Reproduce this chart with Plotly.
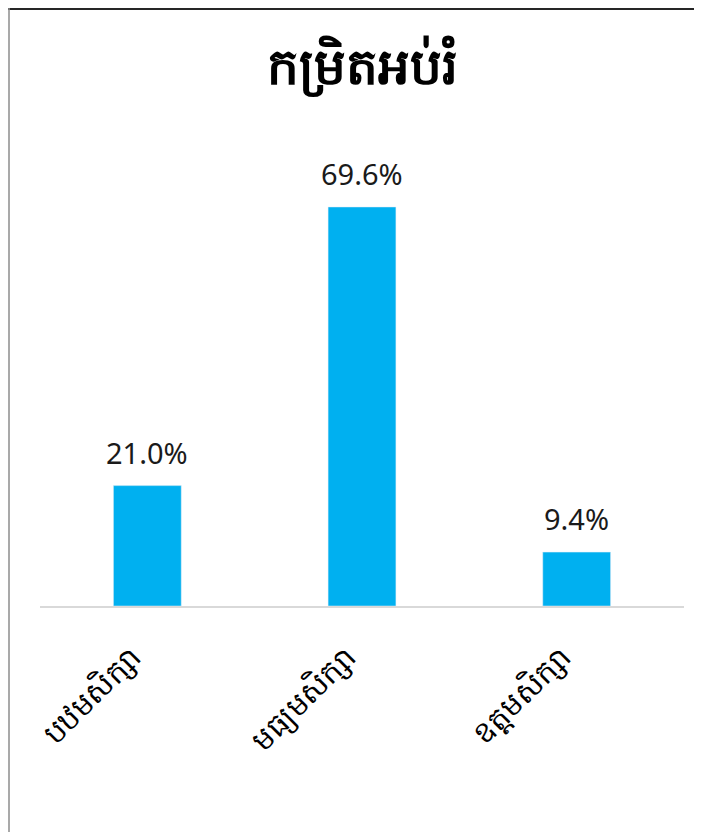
import plotly.graph_objects as go

categories = ["បឋមសិក្សា", "មធ្យមសិក្សា", "ឧត្តមសិក្សា"]
values = [21.0, 69.6, 9.4]
labels = ["21.0%", "69.6%", "9.4%"]
title_text = "កម្រិតអប់រំ"

OFF = 8  # default page body margin
W, H = 694, 824
PLOT_L, PLOT_R, PLOT_T, BASE = 40, 684, 140, 606   # page pixels
ml, mr = PLOT_L - OFF, (OFF + W) - PLOT_R
mt, mb = PLOT_T - OFF, H - (BASE - OFF)
FONT = "Noto Sans, DejaVu Sans"

fig = go.Figure(go.Bar(
    x=categories, y=values,
    marker_color="#00B0F0",
))

for c, v, t in zip(categories, values, labels):
    fig.add_annotation(x=c, y=v, text=t, showarrow=False, yanchor="bottom",
                       yshift=12, font=dict(size=29, color="#1a1a1a", family=FONT))

pw = W - ml - mr
ph = H - mt - mb
def px_to_paper_x(px):
    return (px - OFF - ml) / pw
def px_to_paper_y(py):
    return (H - mb - (py - OFF)) / ph

# frame: dark top edge, grey left edge
fig.add_shape(type="line", xref="paper", yref="paper",
              x0=px_to_paper_x(8), x1=px_to_paper_x(710),
              y0=px_to_paper_y(9), y1=px_to_paper_y(9),
              line=dict(color="#262626", width=2))
fig.add_shape(type="line", xref="paper", yref="paper",
              x0=px_to_paper_x(9), x1=px_to_paper_x(9),
              y0=px_to_paper_y(8), y1=px_to_paper_y(900),
              line=dict(color="#8c8c8c", width=1.5))

fig.update_layout(
    width=W, height=H,
    margin=dict(l=ml, r=mr, t=mt, b=mb),
    paper_bgcolor="white", plot_bgcolor="white",
    bargap=0.684,
    showlegend=False,
    title=dict(text="<b>" + title_text + "</b>", x=px_to_paper_x(362), xref="paper", xanchor="center",
               y=1 - (66 - OFF) / H, yanchor="middle",
               font=dict(size=50, color="black", family=FONT)),
    font=dict(family=FONT),
)
fig.update_yaxes(range=[0, (BASE - PLOT_T) / 5.733], visible=False, showgrid=False)
fig.update_xaxes(showline=True, linecolor="#D9D9D9", linewidth=1.5, ticks="",
                 tickangle=-45, ticklabelstandoff=20, ticklabelshift=-15,
                 tickfont=dict(size=30, color="black", family=FONT))

fig.write_html("out.html")
